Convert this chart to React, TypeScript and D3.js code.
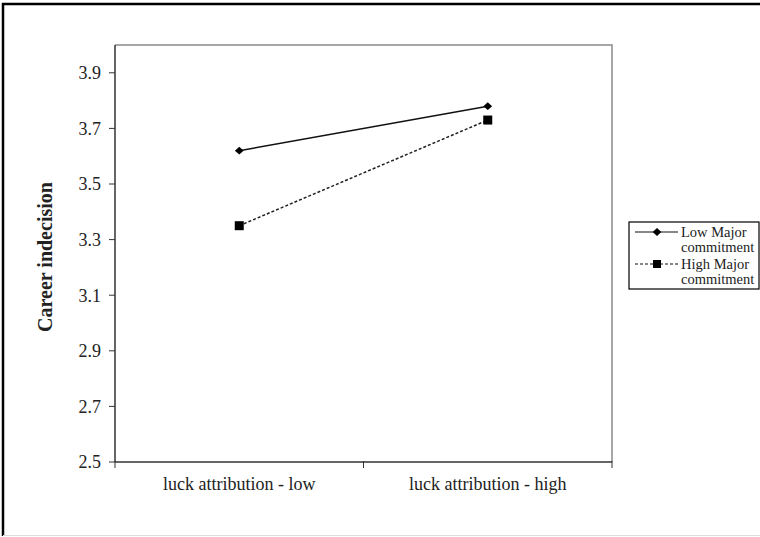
import React, { useEffect, useRef } from 'react';
import * as d3 from 'd3';

/* ── Data ──────────────────────────────────────────────────────── */
const categories = ['luck attribution - low', 'luck attribution - high'];
const lowMajor = [3.62, 3.78];
const highMajor = [3.35, 3.73];
const yTicks = [2.5, 2.7, 2.9, 3.1, 3.3, 3.5, 3.7, 3.9];
const seriesNames = [
  ['Low Major', 'commitment'],
  ['High Major', 'commitment'],
];

const W = 760;
const H = 537;
const FONT = 'Liberation Serif, DejaVu Serif, Times New Roman, serif';

export default function App() {
  const svgRef = useRef<SVGSVGElement>(null);

  useEffect(() => {
    if (!svgRef.current) return;
    const svg = d3.select(svgRef.current);
    svg.selectAll('*').remove();

    // Outer chart frame: heavy left/top, faint bottom, none on the right
    svg.append('path')
      .attr('d', `M3,536V4H${W}`)
      .attr('fill', 'none')
      .attr('stroke', '#000')
      .attr('stroke-width', 2.5);
    svg.append('line')
      .attr('x1', 3).attr('x2', W).attr('y1', 535.5).attr('y2', 535.5)
      .attr('stroke', '#ddd').attr('stroke-width', 1);

    // Plot area
    const pl = 115, pr = 612, pt = 45, pb = 462;

    const x = d3.scaleBand<string>().domain(categories).range([pl, pr]);
    const y = d3.scaleLinear().domain([2.5, 4.0]).range([pb, pt]);

    // top + right border of plot area (gray)
    svg.append('path')
      .attr('d', `M${pl},${pt}H${pr}V${pb}`)
      .attr('fill', 'none')
      .attr('stroke', '#8a8a8a')
      .attr('stroke-width', 1.5);

    // Y axis
    const yAxis = svg.append('g').attr('transform', `translate(${pl},0)`);
    yAxis.append('line')
      .attr('x1', 0).attr('x2', 0).attr('y1', pt).attr('y2', pb)
      .attr('stroke', '#333').attr('stroke-width', 1.5);
    yTicks.forEach(t => {
      yAxis.append('line')
        .attr('x1', -6).attr('x2', 0)
        .attr('y1', y(t)).attr('y2', y(t))
        .attr('stroke', '#333').attr('stroke-width', 1);
      yAxis.append('text')
        .attr('x', -14).attr('y', y(t))
        .attr('dy', '0.35em')
        .attr('text-anchor', 'end')
        .style('font-family', FONT)
        .attr('font-size', 18)
        .attr('fill', '#222')
        .text(t.toFixed(1));
    });

    // X axis
    const xAxis = svg.append('g');
    xAxis.append('line')
      .attr('x1', pl).attr('x2', pr).attr('y1', pb).attr('y2', pb)
      .attr('stroke', '#333').attr('stroke-width', 1.5);
    const bounds = [pl, ...categories.map(c => x(c)! + x.bandwidth())];
    bounds.forEach(b => {
      xAxis.append('line')
        .attr('x1', b).attr('x2', b).attr('y1', pb - 1).attr('y2', pb + 6)
        .attr('stroke', '#333').attr('stroke-width', 1);
    });
    categories.forEach(c => {
      xAxis.append('text')
        .attr('x', x(c)! + x.bandwidth() / 2)
        .attr('y', 490)
        .attr('text-anchor', 'middle')
        .style('font-family', FONT)
        .attr('font-size', 18)
        .attr('fill', '#222')
        .text(c);
    });

    // Y title
    svg.append('text')
      .attr('transform', `translate(52,257) rotate(-90)`)
      .attr('text-anchor', 'middle')
      .style('font-family', FONT)
      .attr('font-weight', 'bold')
      .attr('font-size', 20)
      .attr('fill', '#222')
      .text('Career indecision');

    // Lines
    const cx = (i: number) => x(categories[i])! + x.bandwidth() / 2;
    const line = d3.line<number>().x((_, i) => cx(i)).y(d => y(d));

    svg.append('path')
      .attr('d', line(lowMajor)!)
      .attr('fill', 'none')
      .attr('stroke', '#111')
      .attr('stroke-width', 1.5);
    svg.append('path')
      .attr('d', line(highMajor)!)
      .attr('fill', 'none')
      .attr('stroke', '#222')
      .attr('stroke-width', 1.5)
      .attr('stroke-dasharray', '3,2');

    const diamond = d3.symbol().type(d3.symbolDiamond2).size(40);

    lowMajor.forEach((v, i) => {
      svg.append('path')
        .attr('d', diamond()!)
        .attr('transform', `translate(${cx(i)},${y(v)}) scale(1.1,1)`)
        .attr('fill', '#000');
    });
    highMajor.forEach((v, i) => {
      svg.append('rect')
        .attr('x', cx(i) - 4.5).attr('y', y(v) - 4.5)
        .attr('width', 9).attr('height', 9)
        .attr('fill', '#000');
    });

    // Legend
    const lg = svg.append('g');
    lg.append('rect')
      .attr('x', 629).attr('y', 222)
      .attr('width', 130).attr('height', 67)
      .attr('fill', '#fff')
      .attr('stroke', '#000')
      .attr('stroke-width', 1.2);

    const rows = [232, 264];
    rows.forEach((ry, i) => {
      lg.append('line')
        .attr('x1', 635).attr('x2', 678).attr('y1', ry).attr('y2', ry)
        .attr('stroke', '#111')
        .attr('stroke-width', 1.2)
        .attr('stroke-dasharray', i === 1 ? '3,2' : null);
      if (i === 0) {
        lg.append('path')
          .attr('d', diamond()!)
          .attr('transform', `translate(657,${ry}) scale(1.1,1)`)
          .attr('fill', '#000');
      } else {
        lg.append('rect')
          .attr('x', 653).attr('y', ry - 4)
          .attr('width', 8).attr('height', 8)
          .attr('fill', '#000');
      }
      seriesNames[i].forEach((t, j) => {
        lg.append('text')
          .attr('x', 681).attr('y', ry + j * 15)
          .attr('dy', '0.35em')
          .style('font-family', FONT)
          .attr('font-size', 14.5)
          .attr('fill', '#222')
          .text(t);
      });
    });
  }, []);

  return (
    <div style={{ position: 'absolute', left: 0, top: 0, width: W, height: H, background: '#fff' }}>
      <svg ref={svgRef} width={W} height={H} />
    </div>
  );
}
